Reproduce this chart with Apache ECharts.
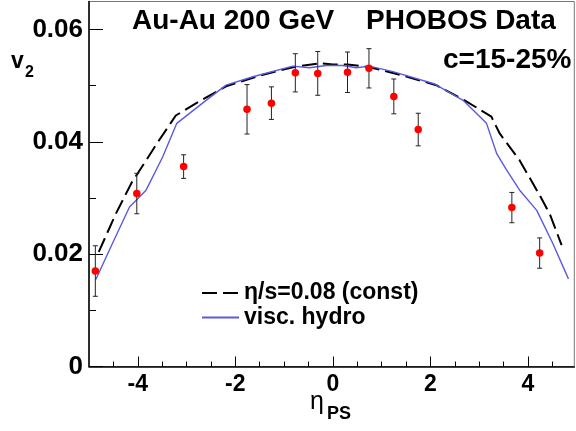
<!DOCTYPE html>
<html>
<head>
<meta charset="utf-8">
<script src="https://cdn.jsdelivr.net/npm/echarts@6/dist/echarts.min.js"></script>
<style>
  html, body { margin: 0; padding: 0; background: #fff; }
  #v2-chart { width: 576px; height: 431px; }
</style>
</head>
<body>
<div id="v2-chart"></div>
<script>
// PHOBOS data, Au-Au 200 GeV, c=15-25%
var etaData = [-4.87, -4.02, -3.06, -1.76, -1.26, -0.77, -0.31, 0.30, 0.74, 1.25, 1.75, 3.67, 4.24];
var v2Data  = [0.0170, 0.0308, 0.0356, 0.0458, 0.0469, 0.0523, 0.0522, 0.0524, 0.0531, 0.0481, 0.0422, 0.0283, 0.0202];
var v2Err   = [0.0045, 0.0036, 0.0021, 0.0044, 0.0029, 0.0034, 0.0039, 0.0036, 0.0035, 0.0031, 0.0029, 0.0027, 0.0027];

// eta/s = 0.08 (const), dashed curve
var constEta = [-4.80, -4.45, -4.11, -4.00, -3.60, -3.22, -2.70, -2.19, -1.50, -0.82, -0.27, 0.00, 0.30, 0.75, 1.40, 2.12, 2.70, 3.25, 3.42, 3.83, 4.24, 4.45, 4.69];
var constV2  = [0.0204, 0.0272, 0.0330, 0.0344, 0.0398, 0.0447, 0.0474, 0.0499, 0.0518, 0.0533, 0.0540, 0.0538, 0.0538, 0.0533, 0.0519, 0.0501, 0.0474, 0.0445, 0.0415, 0.0367, 0.0305, 0.0271, 0.0216];

// visc. hydro, solid blue curve
var viscEta = [-4.86, -4.52, -4.17, -3.83, -3.49, -3.20, -2.60, -2.19, -1.64, -0.82, -0.48, -0.14, 0.20, 0.48, 0.75, 1.23, 2.09, 2.67, 3.15, 3.36, 3.56, 3.83, 4.18, 4.51, 4.83];
var viscV2  = [0.0155, 0.0219, 0.0284, 0.0314, 0.0373, 0.0433, 0.0474, 0.0501, 0.0516, 0.0535, 0.0532, 0.0536, 0.0536, 0.0532, 0.0535, 0.0525, 0.0503, 0.0474, 0.0433, 0.0379, 0.0350, 0.0314, 0.0278, 0.0219, 0.0156];

var xMajorTicks = [-4, -2, 0, 2, 4];
var xMinorTicks = [-4.5, -3.5, -3, -2.5, -1.5, -1, -0.5, 0.5, 1, 1.5, 2.5, 3, 3.5, 4.5];
var yMajorTicks = [0, 0.02, 0.04, 0.06];
var yMinorTicks = [0.01, 0.03, 0.05];

function pairs(xs, ys) {
  return xs.map(function (x, i) { return [x, ys[i]]; });
}

var chart = echarts.init(document.getElementById('v2-chart'));
var FONT = 'Liberation Sans';
var option = {
  animation: false,
  grid: {
    left: 89, right: 1.7, top: 1.5, bottom: 64.5,
    show: true, borderColor: '#777', borderWidth: 1,
    outerBoundsMode: 'none'
  },
  legend: {
    orient: 'vertical',
    left: 201, top: 281, padding: 0,
    itemWidth: 37, itemHeight: 14, itemGap: 0.5,
    itemStyle: { opacity: 0 },
    selectedMode: false,
    textStyle: { fontFamily: FONT, fontWeight: 'bold', fontSize: 23, lineHeight: 24, color: '#000' },
    data: ['η/s=0.08 (const)', 'visc. hydro']
  },
  xAxis: [
    {
      type: 'value', min: -5, max: 4.95,
      axisLine: { onZero: false, lineStyle: { color: '#000', width: 1.5 } },
      axisTick: { inside: true, length: 10, customValues: xMajorTicks, lineStyle: { color: '#000' } },
      axisLabel: {
        customValues: xMajorTicks, margin: 7,
        fontFamily: FONT, fontWeight: 'bold', fontSize: 23, color: '#000'
      },
      splitLine: { show: false }
    },
    {
      type: 'value', min: -5, max: 4.95, position: 'bottom',
      axisLine: { show: false, onZero: false },
      axisTick: { inside: true, length: 5, customValues: xMinorTicks, lineStyle: { color: '#000' } },
      axisLabel: { show: false },
      splitLine: { show: false }
    }
  ],
  yAxis: [
    {
      type: 'value', min: 0, max: 0.065,
      axisLine: { show: true, onZero: false, lineStyle: { color: '#000', width: 1.5 } },
      axisTick: { show: true, inside: true, length: 14, customValues: yMajorTicks, lineStyle: { color: '#000' } },
      axisLabel: {
        customValues: yMajorTicks, margin: 6,
        fontFamily: FONT, fontWeight: 'bold', fontSize: 26, color: '#000',
        formatter: function (v) { return v === 0 ? '0' : v.toFixed(2); }
      },
      splitLine: { show: false }
    },
    {
      type: 'value', min: 0, max: 0.065, position: 'left',
      axisLine: { show: false, onZero: false },
      axisTick: { show: true, inside: true, length: 7, customValues: yMinorTicks, lineStyle: { color: '#000' } },
      axisLabel: { show: false },
      splitLine: { show: false }
    }
  ],
  series: [
    {
      name: 'η/s=0.08 (const)',
      type: 'line',
      symbol: 'none',
      data: pairs(constEta, constV2),
      lineStyle: { color: '#000', width: 2, type: [15, 6] },
      itemStyle: { color: '#000' },
      z: 2
    },
    {
      name: 'visc. hydro',
      type: 'line',
      symbol: 'none',
      data: pairs(viscEta, viscV2),
      lineStyle: { color: '#5a5ae0', width: 1.4 },
      itemStyle: { color: '#5a5ae0' },
      z: 2
    },
    {
      name: 'errors',
      type: 'custom',
      clip: false,
      data: etaData.map(function (x, i) { return [x, v2Data[i], v2Err[i]]; }),
      renderItem: function (params, api) {
        var x = api.value(0), y = api.value(1), e = api.value(2);
        var lo = api.coord([x, y - e]);
        var hi = api.coord([x, y + e]);
        var st = { stroke: '#222', lineWidth: 1 };
        return {
          type: 'group',
          children: [
            { type: 'line', shape: { x1: lo[0], y1: lo[1], x2: hi[0], y2: hi[1] }, style: st },
            { type: 'line', shape: { x1: lo[0] - 2.5, y1: lo[1], x2: lo[0] + 2.5, y2: lo[1] }, style: st },
            { type: 'line', shape: { x1: hi[0] - 2.5, y1: hi[1], x2: hi[0] + 2.5, y2: hi[1] }, style: st }
          ]
        };
      },
      z: 3
    },
    {
      name: 'PHOBOS',
      type: 'scatter',
      symbol: 'circle',
      symbolSize: 7.5,
      data: pairs(etaData, v2Data),
      itemStyle: { color: '#ff0000', opacity: 1 },
      z: 4
    }
  ],
  graphic: [
    { type: 'text', left: 132, top: 7, style: { text: 'Au-Au 200 GeV', font: 'bold 28px ' + FONT, fill: '#000' } },
    { type: 'text', left: 366, top: 7, style: { text: 'PHOBOS Data', font: 'bold 28px ' + FONT, fill: '#000' } },
    { type: 'text', left: 443, top: 46, style: { text: 'c=15-25%', font: 'bold 28px ' + FONT, fill: '#000' } },
    { type: 'text', left: 11, top: 50, style: { text: 'v', font: 'bold 23px ' + FONT, fill: '#000' } },
    { type: 'text', left: 25, top: 65, style: { text: '2', font: 'bold 16px ' + FONT, fill: '#000' } },
    { type: 'text', left: 310, top: 390, style: { text: 'η', font: '25px ' + FONT, fill: '#000' } },
    { type: 'text', left: 327, top: 405, style: { text: 'PS', font: 'bold 18px ' + FONT, fill: '#000' } }
  ]
};
chart.setOption(option);
</script>
</body>
</html>
